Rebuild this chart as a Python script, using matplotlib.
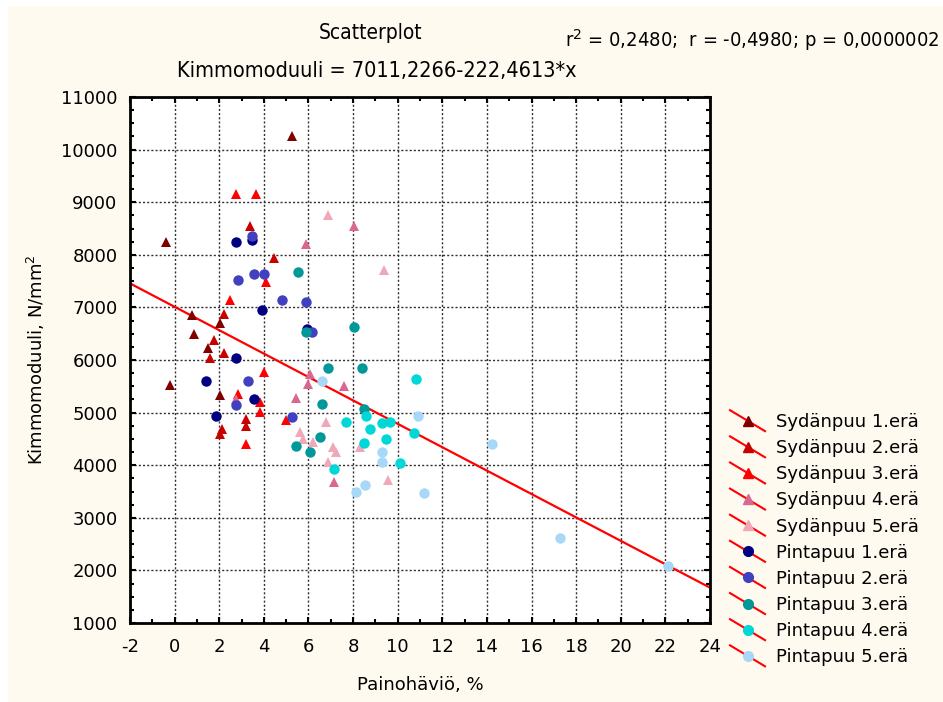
import matplotlib
matplotlib.use("Agg")
import matplotlib.pyplot as plt
from matplotlib.lines import Line2D
from matplotlib.legend_handler import HandlerBase
from matplotlib.patches import Rectangle
from matplotlib.ticker import MultipleLocator

plt.rcParams['font.family'] = ['DejaVu Sans']
plt.rcParams['axes.unicode_minus'] = False

# painohäviö (%) ja kimmomoduuli (N/mm2) eristä
syd1_x = [5.25, -0.39, 0.78, 2.03, 0.87, 1.51, -0.21, 2.03]
syd1_y = [10260, 8240, 6850, 6710, 6500, 6220, 5530, 5340]
syd2_x = [3.38, 4.44, 2.23, 1.77, 2.23, 1.59, 2.14, 2.03, 3.20, 3.20]
syd2_y = [8550, 7940, 6875, 6380, 6130, 6030, 4680, 4590, 4870, 4750]
syd3_x = [2.75, 3.65, 4.08, 2.48, 4.01, 2.85, 3.83, 3.83, 4.98, 3.20]
syd3_y = [9160, 9160, 7480, 7140, 5780, 5350, 5210, 5010, 4850, 4410]
syd4_x = [5.88, 8.04, 6.07, 5.97, 7.59, 5.44, 2.75, 7.14]
syd4_y = [8210, 8540, 5730, 5540, 5510, 5280, 5260, 3690]
syd5_x = [6.89, 9.38, 5.62, 5.77, 6.19, 6.79, 7.11, 7.23, 8.31, 6.88, 9.56]
syd5_y = [8760, 7710, 4640, 4490, 4450, 4830, 4350, 4250, 4340, 4070, 3720]
pin1_x = [2.74, 3.47, 3.90, 5.95, 2.75, 1.41, 3.56, 1.85]
pin1_y = [8250, 8280, 6960, 6580, 6040, 5600, 5250, 4940]
pin2_x = [3.47, 3.54, 4.01, 2.83, 4.81, 5.89, 6.14, 3.30, 2.75, 5.26]
pin2_y = [8360, 7640, 7640, 7530, 7150, 7110, 6540, 5600, 5140, 4910]
pin3_x = [5.54, 5.89, 8.04, 6.89, 8.40, 6.61, 8.49, 6.52, 5.44, 6.07]
pin3_y = [7680, 6540, 6620, 5850, 5850, 5170, 5070, 4530, 4370, 4260]
pin4_x = [10.81, 8.58, 7.70, 9.28, 9.65, 10.73, 8.76, 9.48, 8.50, 10.10, 7.13]
pin4_y = [5630, 4940, 4830, 4800, 4830, 4610, 4680, 4490, 4420, 4040, 3920]
pin5_x = [6.62, 10.91, 9.30, 9.30, 8.52, 8.13, 11.18, 14.23, 17.27, 22.13]
pin5_y = [5600, 4940, 4260, 4070, 3620, 3500, 3470, 4400, 2620, 2080]

# regressiosuora
intercept = 7011.2266
slope = -222.4613

groups = [
    ("Sydänpuu 1.erä", syd1_x, syd1_y, "^", "#800000"),
    ("Sydänpuu 2.erä", syd2_x, syd2_y, "^", "#C80000"),
    ("Sydänpuu 3.erä", syd3_x, syd3_y, "^", "#FF0000"),
    ("Sydänpuu 4.erä", syd4_x, syd4_y, "^", "#D86890"),
    ("Sydänpuu 5.erä", syd5_x, syd5_y, "^", "#F0A8B8"),
    ("Pintapuu 1.erä", pin1_x, pin1_y, "o", "#000080"),
    ("Pintapuu 2.erä", pin2_x, pin2_y, "o", "#4040C0"),
    ("Pintapuu 3.erä", pin3_x, pin3_y, "o", "#009898"),
    ("Pintapuu 4.erä", pin4_x, pin4_y, "o", "#00D8D8"),
    ("Pintapuu 5.erä", pin5_x, pin5_y, "o", "#A8D8F8"),
]


class HandlerSlope(HandlerBase):
    # red slanted line through the group marker
    def create_artists(self, legend, orig_handle, xdescent, ydescent,
                       width, height, fontsize, trans):
        x0 = -xdescent
        yc = height / 2 - ydescent
        dy = 0.83 * height
        line = Line2D([x0, x0 + width], [yc + dy, yc - dy], color="red", lw=1.5)
        mark = Line2D([x0 + width / 2], [yc], marker=orig_handle.get_marker(),
                      color=orig_handle.get_color(), ms=7, ls="none")
        line.set_transform(trans)
        mark.set_transform(trans)
        return [line, mark]


fig = plt.figure(figsize=(9.43, 7.02), dpi=100, facecolor="white")
fig.patches.append(Rectangle((8 / 943, 0), 1, 1 - 6 / 702, transform=fig.transFigure,
                             facecolor="#FFFAF0", edgecolor="none", zorder=-10))

ax = fig.add_axes([130 / 943, 79 / 702, 580 / 943, 526 / 702])
ax.set_facecolor("white")

handles = []
for name, xs, ys, mk, col in groups:
    h, = ax.plot(xs, ys, ls="none", marker=mk, ms=7.5, color=col,
                 markeredgewidth=0, label=name, zorder=3, clip_on=False)
    handles.append(h)

xl = [-2, 24]
ax.plot(xl, [intercept + slope * v for v in xl], color="red", lw=1.6, zorder=2)

ax.set_xlim(-2, 24)
ax.set_ylim(1000, 11000)
ax.xaxis.set_major_locator(MultipleLocator(2))
ax.xaxis.set_minor_locator(MultipleLocator(1))
ax.yaxis.set_major_locator(MultipleLocator(1000))
ax.yaxis.set_minor_locator(MultipleLocator(250))
ax.grid(True, which="major", color="#303030", ls=(0, (1.5, 1.5)), lw=1.0)
ax.set_axisbelow(True)
ax.tick_params(which="both", direction="in", top=True, right=True,
               width=1.5, labelsize=13)
ax.tick_params(which="major", length=4, pad=9)
ax.tick_params(which="minor", length=3)
ax.tick_params(axis="x", which="major", pad=11)
for s in ax.spines.values():
    s.set_linewidth(2)

ax.set_xlabel("Painohäviö, %", fontsize=13, labelpad=14)
ax.set_ylabel("Kimmomoduuli, N/mm$^2$", fontsize=13, labelpad=10)

fig.text(371 / 943, 1 - 33 / 702, "Scatterplot", ha="center", va="center",
         fontsize=15, fontstretch="condensed")
fig.text(377 / 943, 1 - 71 / 702, "Kimmomoduuli = 7011,2266-222,4613*x",
         ha="center", va="center", fontsize=15.5, fontstretch="condensed")
fig.text(940 / 943, 1 - 40 / 702, "r$^2$ = 0,2480;  r = -0,4980; p = 0,0000002",
         ha="right", va="center", fontsize=14.4, fontstretch="condensed")

fig.legend(handles, [g[0] for g in groups], loc="upper left",
           bbox_to_anchor=(730 / 943, 1 - 413 / 702), frameon=False,
           fontsize=13, handlelength=1.94, handletextpad=0.6,
           labelspacing=0.45, borderaxespad=0, borderpad=0,
           handler_map={Line2D: HandlerSlope()})

fig.savefig("out.png", dpi=100, facecolor=fig.get_facecolor())
